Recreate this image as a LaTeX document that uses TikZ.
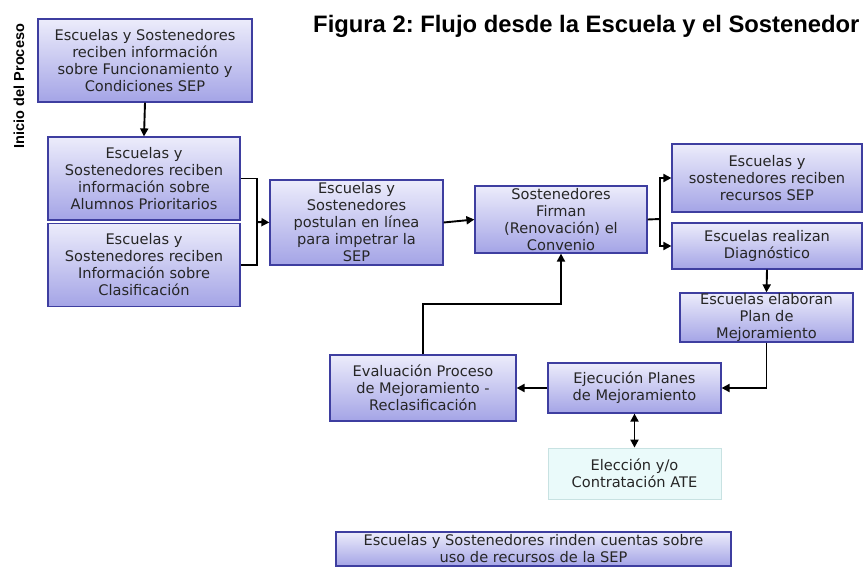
\documentclass[tikz,border=0pt]{standalone}
\usepackage{fontspec}
\setmainfont{DejaVu Sans}
\newfontfamily\titelfont{Liberation Sans}
\usepackage{xcolor}
\usetikzlibrary{calc}
\usetikzlibrary{arrows.meta}
\definecolor{kastenoben}{RGB}{236,236,251}
\definecolor{kastenunten}{RGB}{164,164,230}
\definecolor{kastenrand}{RGB}{62,62,160}
\definecolor{atefill}{RGB}{234,250,250}
\definecolor{aterand}{RGB}{200,226,226}
\frenchspacing

\begin{document}
\begin{tikzpicture}[x=1pt,y=-1pt,
  kasten/.style={rectangle,draw=kastenrand,line width=1.2pt,top color=kastenoben,bottom color=kastenunten,
    align=center,inner sep=0pt,font=\fontsize{14.6}{17}\selectfont,text=black!85},
  pfeil/.style={-{Triangle[length=8pt,width=8pt]},line width=1.9pt},
  linie/.style={line width=1.9pt}]

\useasboundingbox (0,0) rectangle (864,567);
\clip (0,0) rectangle (864,567);

\node[font=\titelfont\bfseries\fontsize{23.8}{26}\selectfont,anchor=east] (titel) at (863,26) {Figura 2: Flujo desde la Escuela y el Sostenedor}; % Titel
\node[font=\titelfont\bfseries\fontsize{14.5}{16}\selectfont,rotate=90] (inicio) at (19,86) {Inicio del Proceso};

\node[kasten,minimum width=214pt,minimum height=83pt] (funcion) at (145,60.5) {Escuelas y Sostenedores\\reciben información\\sobre Funcionamiento y\\Condiciones SEP};
\node[kasten,minimum width=192pt,minimum height=83pt] (alumnos) at (144,178.5) {Escuelas y\\Sostenedores reciben\\información sobre\\Alumnos Prioritarios};
\node[kasten,minimum width=192pt,minimum height=83pt] (clasif) at (144,265) {Escuelas y\\Sostenedores reciben\\Información sobre\\Clasificación};
\node[kasten,minimum width=173pt,minimum height=85pt] (postulan) at (356.5,222.5) {Escuelas y\\Sostenedores\\postulan en línea\\para impetrar la\\SEP};
\node[kasten,minimum width=172pt,minimum height=67pt] (firman) at (561,219.5) {Sostenedores\\Firman\\(Renovación) el\\Convenio};
\node[kasten,minimum width=190pt,minimum height=68pt] (recursos) at (767,178) {Escuelas y\\sostenedores reciben\\recursos SEP};
\node[kasten,minimum width=190pt,minimum height=46pt] (diagnostico) at (767,246) {Escuelas realizan\\Diagnóstico};
\node[kasten,minimum width=173pt,minimum height=49pt] (elaboran) at (766.5,317.5) {Escuelas elaboran\\Plan de\\Mejoramiento};
\node[kasten,minimum width=173pt,minimum height=50pt] (ejecucion) at (634.5,388) {Ejecución Planes\\de Mejoramiento};
\node[kasten,minimum width=186pt,minimum height=66pt] (evaluacion) at (423,388) {Evaluación Proceso\\de Mejoramiento -\\Reclasificación};
\node[kasten,draw=aterand,line width=0.8pt,top color=atefill,bottom color=atefill,minimum width=173pt,minimum height=51pt] (ate) at (634.5,473.5) {Elección y/o\\Contratación ATE};
\node[kasten,minimum width=395pt,minimum height=34pt] (rinden) at (533.5,549) {Escuelas y Sostenedores rinden cuentas sobre\\uso de recursos de la SEP}; % unten abgeschnitten

\coordinate (klammer) at (257,222);   % Klammer links
\coordinate (gabel) at (660,219);     % Gabel rechts

\draw[pfeil] (funcion.south) -- (alumnos.north);
\draw[linie] (alumnos.east) -| (klammer) |- (clasif.east);
\draw[pfeil] (klammer) -- (postulan.west);
\draw[pfeil] (postulan.east) -- (firman.west);
\draw[linie] (firman.east) -- (gabel);
\draw[pfeil] (gabel) |- (recursos.west);
\draw[pfeil] (gabel) |- (diagnostico.west);
\draw[pfeil] (diagnostico.south) -- (elaboran.north);
\draw[pfeil] (elaboran.south) |- (ejecucion.east);
\draw[pfeil] (ejecucion.west) -- (evaluacion.east);
\draw[pfeil] (evaluacion.north) -- ++(0,-50) -| (firman.south);
\draw[pfeil,{Triangle[length=8pt,width=8pt]}-{Triangle[length=8pt,width=8pt]}] (ejecucion.south) -- (ate.north);

\end{tikzpicture}
\end{document}
